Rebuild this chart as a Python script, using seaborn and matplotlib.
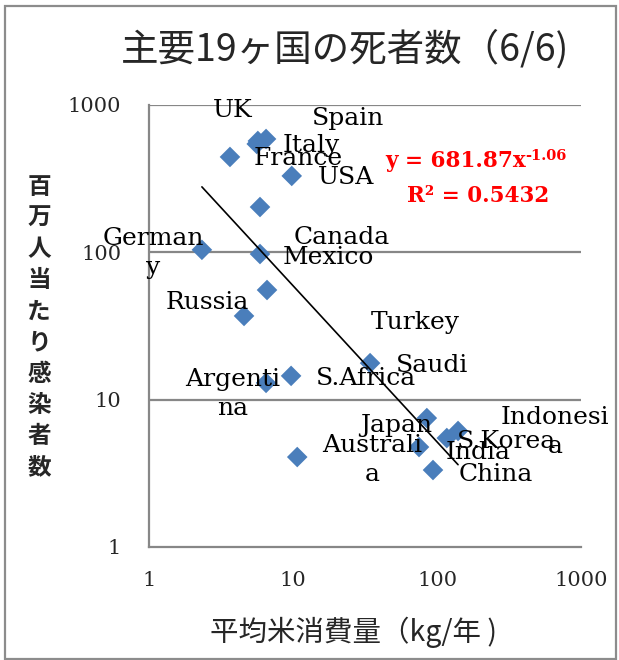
import matplotlib
matplotlib.use("Agg")
import matplotlib.pyplot as plt
from matplotlib.patches import Rectangle
from matplotlib.ticker import FixedLocator, FixedFormatter, NullLocator
import numpy as np
import pandas as pd
import seaborn as sns

# Countries, average rice consumption (kg/year) and deaths per million
countries = ["UK", "Spain", "Italy", "France", "USA", "Canada", "Germany",
             "Mexico", "Turkey", "Russia", "Saudi", "Argentina", "S.Africa",
             "Japan", "Australia", "India", "S.Korea", "Indonesia", "China"]
rice_kg = [5.7, 6.5, 5.6, 3.65, 9.8, 5.9, 2.33,
           5.9, 6.6, 4.57, 34.3, 6.5, 9.7,
           85.0, 10.7, 75.0, 117.0, 140.0, 93.8]
deaths_per_million = [570, 588, 544, 444, 330, 203, 104,
                      97.4, 55.5, 37.0, 17.7, 13.0, 14.5,
                      7.5, 4.08, 4.77, 5.49, 6.13, 3.33]

# Displayed label text (wrapped the way the chart shows them)
label_text = {"Germany": "German\ny", "Argentina": "Argenti\nna",
              "Australia": "Australi\na", "Indonesia": "Indonesi\na"}

# Power-law trend line coefficients: y = a * x^b
trend_a = 681.87
trend_b = -1.06
r_squared = 0.5432

axis_ticks = [1, 10, 100, 1000]
axis_tick_labels = ["1", "10", "100", "1000"]

title = "主要19ヶ国の死者数（6/6)"
x_label = "平均米消費量（kg/年 )"
y_label = "百万人当たり感染者数"

# Label placement offsets in pixels (dx right, dy down) from each marker
label_offsets = {
    "UK": (-25, -30), "Spain": (82, -20), "Italy": (55, 2), "France": (68, 2),
    "USA": (54, 2), "Canada": (82, 30), "Germany": (-49, 3), "Mexico": (68, 3),
    "Turkey": (148, 32), "Russia": (-37, -13), "Saudi": (62, 2),
    "Argentina": (-33, 11), "S.Africa": (75, 3), "Japan": (-31, 7),
    "Australia": (75, 3), "India": (59, 5), "S.Korea": (60, 3),
    "Indonesia": (97, 1), "China": (63, 4),
}

sns.set_style("white")
plt.rcParams["font.family"] = ["DejaVu Serif"]

W, H = 619, 660
fig = plt.figure(figsize=(W / 100, H / 100), dpi=100)
fig.patch.set_facecolor("white")


def fx(px):
    return px / W


def fy(py):
    return 1 - py / H


# plot area in pixel terms
left, right, top, bottom = 149, 581, 105, 547
ax = fig.add_axes([fx(left), fy(bottom), (right - left) / W, (bottom - top) / H])

df = pd.DataFrame({"country": countries, "rice": rice_kg, "deaths": deaths_per_million})

grid_color = "#878787"
ax.set_xscale("log")
ax.set_yscale("log")
ax.set_xlim(1, 1000)
ax.set_ylim(1, 1000)
for yv in axis_ticks[1:]:
    ax.axhline(yv, color=grid_color, lw=1.6, zorder=0)

sns.scatterplot(data=df, x="rice", y="deaths", marker="D", s=110,
                color="#4A7EBB", edgecolor="none", ax=ax, zorder=3, legend=False)

# trend line across the data range
xs = np.logspace(np.log10(min(rice_kg)), np.log10(max(rice_kg)), 50)
ax.plot(xs, trend_a * xs ** trend_b, color="black", lw=1.2, zorder=4)

for name, xv, yv in zip(countries, rice_kg, deaths_per_million):
    dx, dy = label_offsets[name]
    ax.annotate(label_text.get(name, name), (xv, yv), xytext=(dx, -dy),
                textcoords="offset pixels", ha="center", va="center",
                fontsize=18, color="black", linespacing=1.35, zorder=5)

# trend equation: base text plus raised exponent
red = "#FF0000"
eq_main = fig.text(fx(385), fy(167), f"y = {trend_a:.2f}x", ha="left", va="baseline",
                   color=red, fontsize=15.5, fontweight="bold")
fig.canvas.draw()
bb = eq_main.get_window_extent(fig.canvas.get_renderer())
fig.text(bb.x1 / W, fy(160), f"{trend_b:.2f}", ha="left", va="baseline",
         color=red, fontsize=10.5, fontweight="bold")
fig.text(fx(478), fy(202), f"R² = {r_squared:.4f}", ha="center", va="baseline",
         color=red, fontsize=15.5, fontweight="bold")

# axes styling
for side in ["top", "right"]:
    ax.spines[side].set_visible(False)
for side in ["left", "bottom"]:
    ax.spines[side].set_color(grid_color)
    ax.spines[side].set_linewidth(1.6)
ax.xaxis.set_major_locator(FixedLocator(axis_ticks))
ax.xaxis.set_major_formatter(FixedFormatter(axis_tick_labels))
ax.yaxis.set_major_locator(FixedLocator(axis_ticks))
ax.yaxis.set_major_formatter(FixedFormatter(axis_tick_labels))
ax.xaxis.set_minor_locator(NullLocator())
ax.yaxis.set_minor_locator(NullLocator())
ax.tick_params(axis="x", direction="out", length=6, width=1.4, color=grid_color,
               labelsize=15, pad=11)
ax.tick_params(axis="y", direction="out", length=6, width=1.4, color=grid_color,
               labelsize=15, pad=14)
ax.set_xlabel("")
ax.set_ylabel("")

cjk = ["Noto Sans CJK JP", "DejaVu Sans"]
fig.text(fx(345), fy(50), title, ha="center", va="center", fontsize=27,
         family=cjk)
fig.text(fx(354), fy(632), x_label, ha="center", va="center", fontsize=20.5,
         family=cjk)
# vertical stacked y-axis title
n = len(y_label)
y_first, y_last = 187, 467
for i, ch in enumerate(y_label):
    py = y_first + (y_last - y_first) * i / (n - 1)
    fig.text(fx(39), fy(py), ch, ha="center", va="center", fontsize=17,
             family=cjk, fontweight="bold")

# chart border
fig.patches.append(Rectangle((fx(5), 1 / H), 611 / W, 653 / H, transform=fig.transFigure,
                             fill=False, edgecolor="#8C8C8C", lw=1.6))

fig.savefig("out.png", dpi=100)
